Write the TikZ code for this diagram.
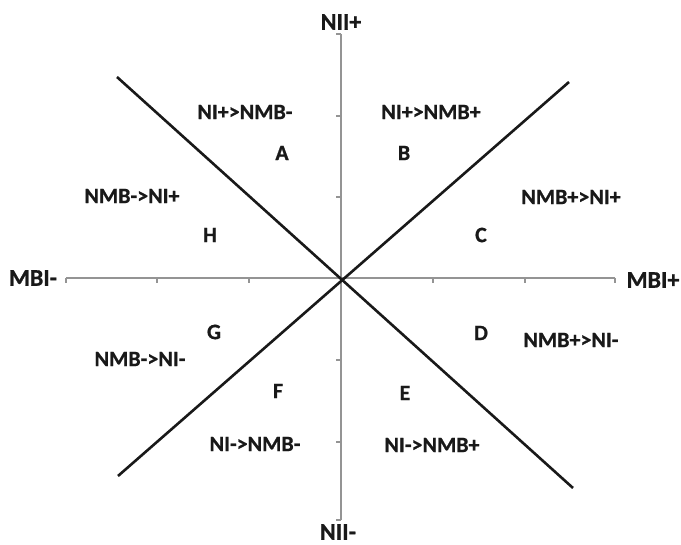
\documentclass[tikz,border=0pt]{standalone}
\usepackage{fontspec}
\setmainfont{Carlito}[BoldFont={Carlito Bold},BoldFeatures={FakeBold=0.8}]
\begin{document}
\begin{tikzpicture}[x=1pt,y=-1pt,
  axis/.style={draw=black!42,line width=1.8pt},
  diag/.style={draw=black!90,line width=2.6pt},
  lab/.style={inner sep=0pt,text=black!90,font=\fontsize{22}{26}\bfseries\selectfont},
  axlab/.style={inner sep=0pt,text=black!90,font=\fontsize{24}{28}\bfseries\selectfont}]
\useasboundingbox (0,0) rectangle (681,545);
% axis coordinates
\coordinate (O) at (341,278);
\coordinate (L) at (66,278);
\coordinate (R) at (615,278);
\coordinate (T) at (341,34);
\coordinate (Bt) at (341,520);
% horizontal axis with ticks
\draw[axis] (L) -- (R);
\foreach \x in {66,157,249,433,525,615} \draw[axis] (\x,278) -- (\x,283);
% vertical axis with ticks
\draw[axis] (T) -- (Bt);
\foreach \y in {34,116,197,360,442,520} \draw[axis] (341,\y) -- (336,\y);
% diagonals
\coordinate (d1a) at (117,77);
\coordinate (d1b) at (573,488);
\coordinate (d2a) at (569,82);
\coordinate (d2b) at (118,476);
\draw[diag] (d1a) -- (d1b);
\draw[diag] (d2a) -- (d2b);
% axis labels
\node[axlab] (nip) at (341,22) {NII+};
\node[axlab] (nim) at (338,532) {NII-};
\node[axlab] (mbm) at (33,278) {MBI-};
\node[axlab] (mbp) at (653,280) {MBI+};
% region labels
\node[lab] (tA) at (245,112) {NI+>NMB-};
\node[lab] (A) at (282,153) {A};
\node[lab] (tB) at (431,112) {NI+>NMB+};
\node[lab] (B) at (404,153) {B};
\node[lab] (tC) at (571,197) {NMB+>NI+};
\node[lab] (C) at (481,235) {C};
\node[lab] (tH) at (132,196) {NMB->NI+};
\node[lab] (H) at (210,235) {H};
\node[lab] (G) at (214,332) {G};
\node[lab] (tG) at (140,359) {NMB->NI-};
\node[lab] (D) at (481,333) {D};
\node[lab] (tD) at (571,340) {NMB+>NI-};
\node[lab] (F) at (278,391) {F};
\node[lab] (tF) at (255,444) {NI->NMB-};
\node[lab] (E) at (405,393) {E};
\node[lab] (tE) at (432,445) {NI->NMB+};
\end{tikzpicture}
\end{document}
